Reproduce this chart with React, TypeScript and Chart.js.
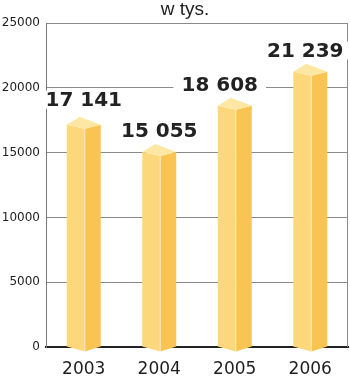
import React, { useEffect, useRef } from 'react';
import { Chart, registerables } from 'chart.js';

Chart.register(...registerables);

const title = 'w tys.';
const categories = ['2003', '2004', '2005', '2006'];
const values = [17141, 15055, 18608, 21239];
const valueLabels = ['17 141', '15 055', '18 608', '21 239'];
const yTicks = [0, 5000, 10000, 15000, 20000, 25000];

const FACE_LEFT = '#FDD77C';
const FACE_RIGHT = '#F9C452';
const FACE_CAP = '#FEE6A3';
const EDGE_LIGHT = '#FFEFC4';

// label nudges (style only)
const LABEL_DX = [0, 0, -15, -5];
const LABEL_DY = [-4, 0, 0, 0];

const prismPlugin = {
  id: 'prism',
  beforeDatasetsDraw(chart: any) {
    const { ctx, chartArea } = chart;
    ctx.save();
    ctx.strokeStyle = '#8a8a8a';
    ctx.lineWidth = 1;
    ctx.beginPath();
    const rx = Math.round(chartArea.right) - 0.5;
    ctx.moveTo(rx, chartArea.top);
    ctx.lineTo(rx, chartArea.bottom);
    ctx.stroke();
    ctx.restore();
  },
  afterDatasetsDraw(chart: any) {
    const ctx = chart.ctx;
    const meta = chart.getDatasetMeta(0);
    ctx.save();
    meta.data.forEach((bar: any, i: number) => {
      const { x, y, base, width } = bar.getProps(['x', 'y', 'base', 'width'], true);
      const x0 = x - width / 2;
      const x1 = x + width / 2;
      const xf = x + 1;
      const xb = x - 4;
      const d = 4;
      const db = 8;
      const dBottom = 5;
      ctx.fillStyle = FACE_LEFT;
      ctx.beginPath();
      ctx.moveTo(x0, y);
      ctx.lineTo(xf, y + d);
      ctx.lineTo(xf, base + dBottom);
      ctx.lineTo(x0, base);
      ctx.closePath();
      ctx.fill();
      ctx.fillStyle = FACE_RIGHT;
      ctx.beginPath();
      ctx.moveTo(xf, y + d);
      ctx.lineTo(x1, y);
      ctx.lineTo(x1, base);
      ctx.lineTo(xf, base + dBottom);
      ctx.closePath();
      ctx.fill();
      ctx.fillStyle = FACE_CAP;
      ctx.beginPath();
      ctx.moveTo(x0, y);
      ctx.lineTo(xb, y - db);
      ctx.lineTo(x1, y);
      ctx.lineTo(xf, y + d);
      ctx.closePath();
      ctx.fill();
      ctx.strokeStyle = EDGE_LIGHT;
      ctx.lineWidth = 1;
      ctx.beginPath();
      ctx.moveTo(xf, y + d);
      ctx.lineTo(xf, base + dBottom);
      ctx.stroke();

      ctx.font = 'bold 20px "DejaVu Sans"';
      ctx.textAlign = 'center';
      ctx.textBaseline = 'alphabetic';
      const label = valueLabels[i];
      const w = ctx.measureText(label).width;
      const cx = x + LABEL_DX[i];
      const by = y - 14.7 + LABEL_DY[i];
      ctx.fillStyle = '#ffffff';
      ctx.fillRect(cx - w / 2 - 8, by - 15.5, w + 16, 18);
      ctx.fillStyle = '#222222';
      ctx.fillText(label, cx, by);
    });
    ctx.restore();
  },
  afterDraw(chart: any) {
    const ctx = chart.ctx;
    ctx.save();
    ctx.font = '19px "Liberation Sans"';
    ctx.fillStyle = '#1e1e1e';
    ctx.textAlign = 'center';
    ctx.textBaseline = 'alphabetic';
    ctx.fillText(title, 185, 15);
    ctx.restore();
  },
};

export default function App() {
  const ref = useRef<HTMLCanvasElement>(null);
  useEffect(() => {
    document.body.style.margin = '0';
    const chart = new Chart(ref.current as HTMLCanvasElement, {
      type: 'bar',
      data: {
        labels: categories,
        datasets: [
          {
            data: values,
            backgroundColor: 'rgba(0,0,0,0)',
            borderWidth: 0,
            barPercentage: 0.45,
            categoryPercentage: 1,
          },
        ],
      },
      options: {
        responsive: false,
        animation: false,
        layout: { padding: { top: 23, right: 2, left: 0, bottom: 0 } },
        plugins: {
          legend: { display: false },
          tooltip: { enabled: false },
          title: { display: false },
        },
        scales: {
          x: {
            grid: { display: false, drawTicks: false },
            border: { color: '#222', width: 2 },
            ticks: {
              color: '#1e1e1e',
              padding: 12,
              font: { family: 'DejaVu Sans', size: 17 },
            },
            afterFit: (s: any) => {
              s.height = 33;
            },
          },
          y: {
            min: 0,
            max: 25000,
            afterBuildTicks: (s: any) => {
              s.ticks = yTicks.map((v) => ({ value: v }));
            },
            ticks: {
              color: '#1e1e1e',
              padding: 6,
              font: { family: 'DejaVu Sans', size: 12 },
              callback: (v: any) => String(v),
            },
            grid: { color: '#8a8a8a', lineWidth: 1, drawTicks: false },
            border: { color: '#7a7a7a', width: 1 },
            afterFit: (s: any) => {
              s.width = 46;
            },
          },
        },
      },
      plugins: [prismPlugin],
    });
    return () => chart.destroy();
  }, []);
  return (
    <div style={{ width: 350, height: 380 }}>
      <canvas ref={ref} width={350} height={380} style={{ display: 'block' }} />
    </div>
  );
}
